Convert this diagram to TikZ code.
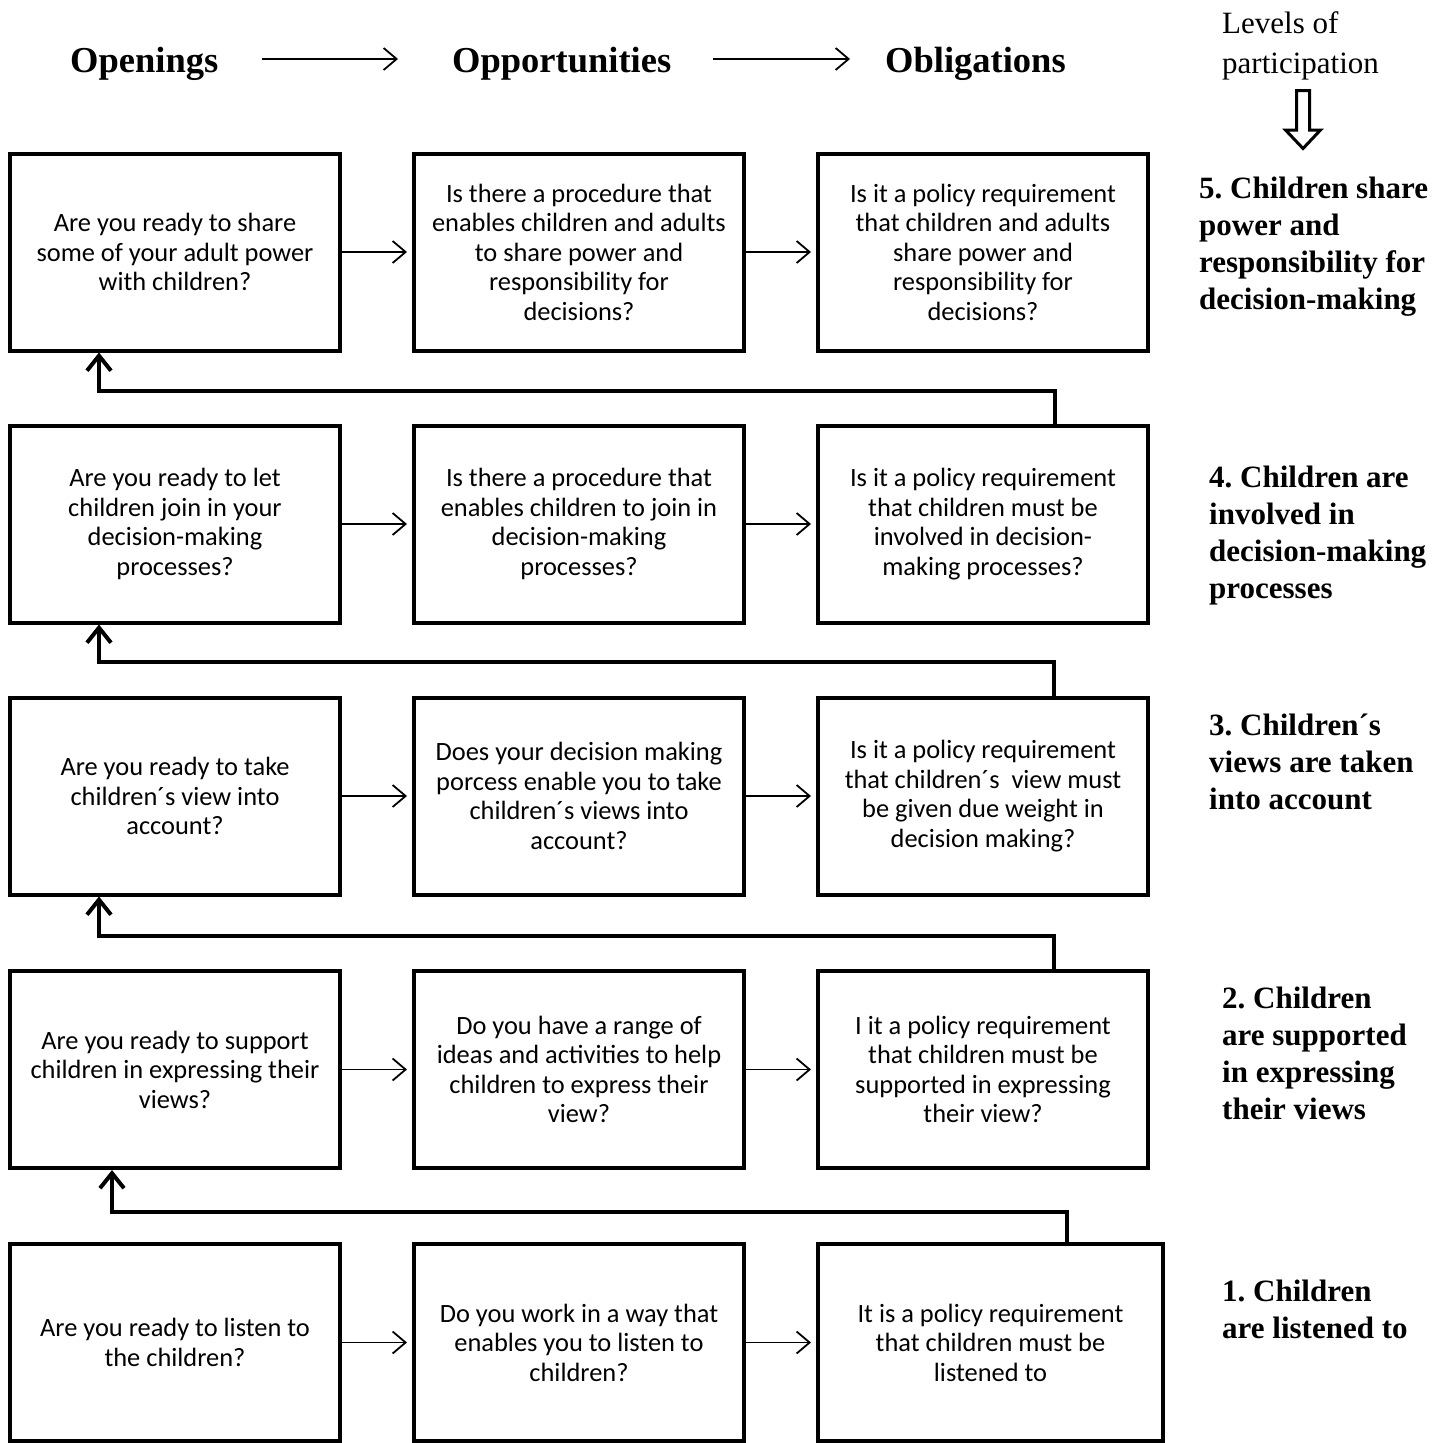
\documentclass[tikz,border=0pt]{standalone}
\usepackage{fontspec}
\setmainfont{Liberation Serif}
\newfontfamily\boxfont{Carlito}
\usetikzlibrary{arrows.meta}
\frenchspacing
\begin{document}
\begin{tikzpicture}[x=1pt,y=-1pt,
  qbox/.style={draw, line width=4pt, minimum width=330pt, minimum height=197pt, align=center, inner sep=0pt, font=\boxfont\fontsize{26.4}{29.5}\selectfont},
  harrow/.style={line width=1.8pt, -{Straight Barb[length=13pt,width=22pt]}},
  varrow/.style={line width=4pt, -{Straight Barb[length=15pt,width=24pt]}},
  head/.style={anchor=base west, inner sep=0pt, font=\bfseries\fontsize{36.5}{40}\selectfont},
  level/.style={anchor=base west, align=left, inner sep=0pt, font=\frenchspacing\bfseries\fontsize{31}{37}\selectfont}]
\useasboundingbox (0,0) rectangle (1436,1443);

% headings
\node[head] (h1) at (70,72) {Openings};
\node[head] (h2) at (452,72) {Opportunities};
\node[head] (h3) at (885,72) {Obligations};
\coordinate (hy) at (0,59);
\draw[harrow, shorten <=44pt, shorten >=54pt] (h1.east |- hy) -- (h2.west |- hy);
\draw[harrow, shorten <=42pt, shorten >=35pt] (h2.east |- hy) -- (h3.west |- hy);

% (base anchor of a multi-line node = baseline of its last line)
\node[anchor=base west, align=left, inner sep=0pt, font=\fontsize{31}{40}\selectfont] (lv) at (1222,73) {Levels of\\participation};
\draw[line width=3pt] (1296.5,90.5) -- (1309.5,90.5) -- (1309.5,130) -- (1320.5,130) -- (1303,148.5) -- (1285.5,130) -- (1296.5,130) -- cycle;

% row 5
\node[qbox] (b51) at (175,252) {Are you ready to share\\some of your adult power\\with children?};
\node[qbox] (b52) at (579,252) {Is there a procedure that\\enables children and adults\\to share power and\\responsibility for\\decisions?};
\node[qbox] (b53) at (983,252) {Is it a policy requirement\\that children and adults\\share power and\\responsibility for\\decisions?};
% row 4
\node[qbox] (b41) at (175,524) {Are you ready to let\\children join in your\\decision-making\\processes?};
\node[qbox] (b42) at (579,524) {Is there a procedure that\\enables children to join in\\decision-making\\processes?};
\node[qbox] (b43) at (983,524) {Is it a policy requirement\\that children must be\\involved in decision-\\making processes?};
% row 3
\node[qbox] (b31) at (175,796) {Are you ready to take\\children´s view into\\account?};
\node[qbox] (b32) at (579,796) {Does your decision making\\porcess enable you to take\\children´s views into\\account?};
\node[qbox] (b33) at (983,796) {Is it a policy requirement\\that children´s~ view must\\be given due weight in\\decision making?};
% row 2
\node[qbox] (b21) at (175,1069.5) {Are you ready to support\\children in expressing their\\views?};
\node[qbox] (b22) at (579,1069.5) {Do you have a range of\\ideas and activities to help\\children to express their\\view?};
\node[qbox] (b23) at (983,1069.5) {I it a policy requirement\\that children must be\\supported in expressing\\their view?};
% row 1
\node[qbox] (b11) at (175,1342.5) {Are you ready to listen to\\the children?};
\node[qbox] (b12) at (579,1342.5) {Do you work in a way that\\enables you to listen to\\children?};
\node[qbox, minimum width=345pt] (b13) at (990.5,1342.5) {It is a policy requirement\\that children must be\\listened to};

% horizontal arrows
\foreach \r in {5,4,3,2,1}{
  \draw[harrow, shorten >=5pt] (b\r1.east) -- (b\r2.west);
  \draw[harrow, shorten >=5pt] (b\r2.east) -- (b\r3.west);
}

% level-up connectors
\coordinate (k5) at (99,391);
\coordinate (k4) at (99,662);
\coordinate (k3) at (99,936);
\coordinate (k2) at (112,1212);
\draw[varrow] ([xshift=72pt]b43.north) |- (k5) -- ([xshift=-76pt]b51.south);
\draw[varrow] ([xshift=71pt]b33.north) |- (k4) -- ([xshift=-76pt]b41.south);
\draw[varrow] ([xshift=71pt]b23.north) |- (k3) -- ([xshift=-76pt]b31.south);
\draw[varrow] ([xshift=76.5pt]b13.north) |- (k2) -- ([xshift=-63pt]b21.south);

% level labels
\node[level] (l5) at (1199,309) {5. Children share\\power and\\responsibility for\\decision-making};
\node[level] (l4) at (1209,598) {4. Children are\\involved in\\decision-making\\processes};
\node[level] (l3) at (1209,809) {3. Children´s\\views are taken\\into account};
\node[level] (l2) at (1222,1119) {2. Children\\are supported\\in expressing\\their views};
\node[level] (l1) at (1222,1338) {1. Children\\are listened to};
\end{tikzpicture}
\end{document}
